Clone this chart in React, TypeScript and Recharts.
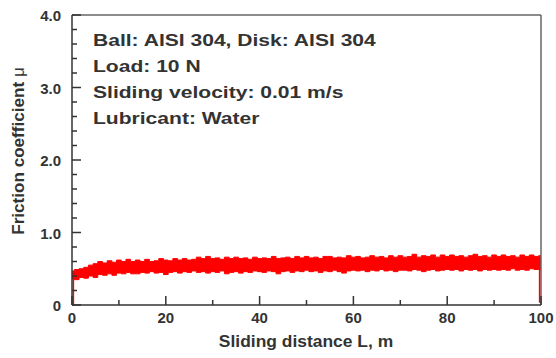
import React from "react";
import {
  ComposedChart,
  Area,
  Line,
  XAxis,
  YAxis,
  ReferenceLine,
  Customized
} from "recharts";

// sliding distance (m), 1 m steps
const distance = [
  0, 1, 2, 3, 4, 5, 6, 7, 8, 9, 10, 11, 12, 13, 14, 15, 16, 17, 18, 19, 20,
  21, 22, 23, 24, 25, 26, 27, 28, 29, 30, 31, 32, 33, 34, 35, 36, 37, 38, 39, 40,
  41, 42, 43, 44, 45, 46, 47, 48, 49, 50, 51, 52, 53, 54, 55, 56, 57, 58, 59, 60,
  61, 62, 63, 64, 65, 66, 67, 68, 69, 70, 71, 72, 73, 74, 75, 76, 77, 78, 79, 80,
  81, 82, 83, 84, 85, 86, 87, 88, 89, 90, 91, 92, 93, 94, 95, 96, 97, 98, 99, 100
];

// upper / lower envelope of the noisy friction trace
const muHigh = [
  0.47, 0.49, 0.5, 0.52, 0.55, 0.57, 0.6, 0.58, 0.61, 0.59, 0.62,
  0.6, 0.63, 0.6, 0.62, 0.6, 0.63, 0.6, 0.61, 0.64, 0.62,
  0.61, 0.64, 0.62, 0.64, 0.62, 0.63, 0.66, 0.64, 0.67, 0.64,
  0.65, 0.63, 0.66, 0.64, 0.66, 0.64, 0.65, 0.63, 0.66, 0.64,
  0.65, 0.64, 0.67, 0.64, 0.65, 0.66, 0.64, 0.67, 0.65, 0.67,
  0.65, 0.66, 0.64, 0.67, 0.67, 0.65, 0.66, 0.65, 0.68, 0.66,
  0.67, 0.65, 0.66, 0.68, 0.66, 0.67, 0.65, 0.68, 0.66, 0.68,
  0.66, 0.67, 0.7, 0.66, 0.68, 0.67, 0.69, 0.66, 0.69, 0.67,
  0.69, 0.67, 0.68, 0.66, 0.68, 0.7, 0.67, 0.68, 0.66, 0.69,
  0.67, 0.69, 0.67, 0.68, 0.66, 0.69, 0.67, 0.69, 0.67, 0.68
];

const muLow = [
  0.36, 0.35, 0.38, 0.37, 0.4, 0.38, 0.42, 0.41, 0.43, 0.41, 0.44,
  0.43, 0.45, 0.43, 0.43, 0.45, 0.44, 0.46, 0.44, 0.45, 0.42,
  0.45, 0.46, 0.44, 0.46, 0.45, 0.47, 0.45, 0.46, 0.44, 0.46,
  0.45, 0.47, 0.43, 0.45, 0.46, 0.44, 0.46, 0.45, 0.47, 0.46,
  0.45, 0.47, 0.46, 0.43, 0.46, 0.47, 0.45, 0.47, 0.46, 0.48,
  0.46, 0.47, 0.45, 0.47, 0.46, 0.48, 0.46, 0.44, 0.47, 0.48,
  0.47, 0.48, 0.46, 0.48, 0.47, 0.49, 0.47, 0.48, 0.46, 0.48,
  0.48, 0.47, 0.49, 0.48, 0.46, 0.48, 0.49, 0.47, 0.48, 0.49,
  0.48, 0.49, 0.47, 0.49, 0.48, 0.49, 0.47, 0.49, 0.48, 0.49,
  0.48, 0.49, 0.48, 0.5, 0.48, 0.49, 0.48, 0.5, 0.49, 0.49
];

// run-in from rest at the start, drop at the end of the test
const startDistance = 0.3;
const startMu = [0, 0.45];
const endDistance = 99.7;
const endMu = [0.5, 0.03];

const xTicks = [0, 10, 20, 30, 40, 50, 60, 70, 80, 90, 100];
const xMajor = [0, 20, 40, 60, 80, 100];
const yTicks = [
  0, 0.2, 0.4, 0.6, 0.8, 1, 1.2, 1.4, 1.6, 1.8, 2, 2.2, 2.4, 2.6, 2.8, 3,
  3.2, 3.4, 3.6, 3.8, 4
];
const yMajor = [0, 1, 2, 3, 4];
const yLabels = ["0", "1.0", "2.0", "3.0", "4.0"];

const notes = [
  "Ball: AISI 304, Disk: AISI 304",
  "Load: 10 N",
  "Sliding velocity: 0.01 m/s",
  "Lubricant: Water"
];

const font = "'Liberation Sans', Arial, sans-serif";
const ink = "#333";
const red = "#ff0000";

const data = [
  ...startMu.map((mu) => ({ d: startDistance, edge: mu })),
  ...distance.map((d, i) => ({ d, band: [muLow[i], muHigh[i]] })),
  ...endMu.map((mu) => ({ d: endDistance, edge: mu }))
];

function XTick(props: any) {
  const { x, y, payload } = props;
  const major = xMajor.includes(payload.value);
  return (
    <g>
      <line x1={x} x2={x} y1={y} y2={y - (major ? 9 : 5)} stroke={ink} strokeWidth={1.5} />
      {major && (
        <text x={x} y={y + 18} textAnchor="middle" fill={ink} fontSize={15} fontWeight="bold" fontFamily={font}>
          {payload.value}
        </text>
      )}
    </g>
  );
}

function YTick(props: any) {
  const { x, y, payload } = props;
  const idx = yMajor.findIndex((m) => Math.abs(m - payload.value) < 1e-6);
  const major = idx >= 0;
  return (
    <g>
      <line x1={x} x2={x + (major ? 9 : 5)} y1={y} y2={y} stroke={ink} strokeWidth={1.5} />
      {major && (
        <text x={x - 11} y={y + 6} textAnchor="end" fill={ink} fontSize={15} fontWeight="bold" fontFamily={font}>
          {yLabels[idx]}
        </text>
      )}
    </g>
  );
}

function Notes() {
  return (
    <g>
      {notes.map((t, i) => (
        <text
          key={t}
          x={0}
          y={0}
          transform={`translate(93,${46 + i * 26}) scale(1.24,1)`}
          fill={ink}
          fontSize={17}
          fontWeight="bold"
          fontFamily={font}
        >
          {t}
        </text>
      ))}
      <text
        x={0}
        y={0}
        transform="translate(306,347) scale(1.09,1)"
        textAnchor="middle"
        fill={ink}
        fontSize={16}
        fontWeight="bold"
        fontFamily={font}
      >
        Sliding distance L, m
      </text>
      <text
        x={0}
        y={0}
        transform="translate(24,151) rotate(-90) scale(1.07,1)"
        textAnchor="middle"
        fill={ink}
        fontSize={16}
        fontWeight="bold"
        fontFamily={font}
      >
        Friction coefficient <tspan fontWeight="normal">μ</tspan>
      </text>
    </g>
  );
}

export default function App() {
  return (
    <div style={{ position: "absolute", left: 0, top: 0, background: "#fff" }}>
      <ComposedChart
        width={556}
        height={358}
        data={data}
        margin={{ top: 15, right: 15, bottom: 0, left: 0 }}
      >
        <XAxis
          dataKey="d"
          type="number"
          domain={[0, 100]}
          ticks={xTicks}
          interval={0}
          height={53}
          tickSize={0}
          tickMargin={0}
          tickLine={false}
          tick={<XTick />}
          axisLine={{ stroke: ink, strokeWidth: 1.5 }}
          allowDuplicatedCategory
        />
        <YAxis
          type="number"
          domain={[0, 4]}
          ticks={yTicks}
          interval={0}
          width={72}
          tickSize={0}
          tickMargin={0}
          tickLine={false}
          tick={<YTick />}
          axisLine={{ stroke: ink, strokeWidth: 1.5 }}
        />
        <ReferenceLine y={4} stroke="#666" strokeWidth={1.5} />
        <ReferenceLine x={100} stroke="#666" strokeWidth={1.5} />
        <Area
          type="step"
          dataKey="band"
          stroke={red}
          strokeWidth={1}
          fill={red}
          fillOpacity={1}
          isAnimationActive={false}
          dot={false}
          activeDot={false}
        />
        <Line
          type="linear"
          dataKey="edge"
          stroke={red}
          strokeWidth={1.5}
          dot={false}
          activeDot={false}
          isAnimationActive={false}
        />
        <Customized component={<Notes />} />
      </ComposedChart>
    </div>
  );
}
